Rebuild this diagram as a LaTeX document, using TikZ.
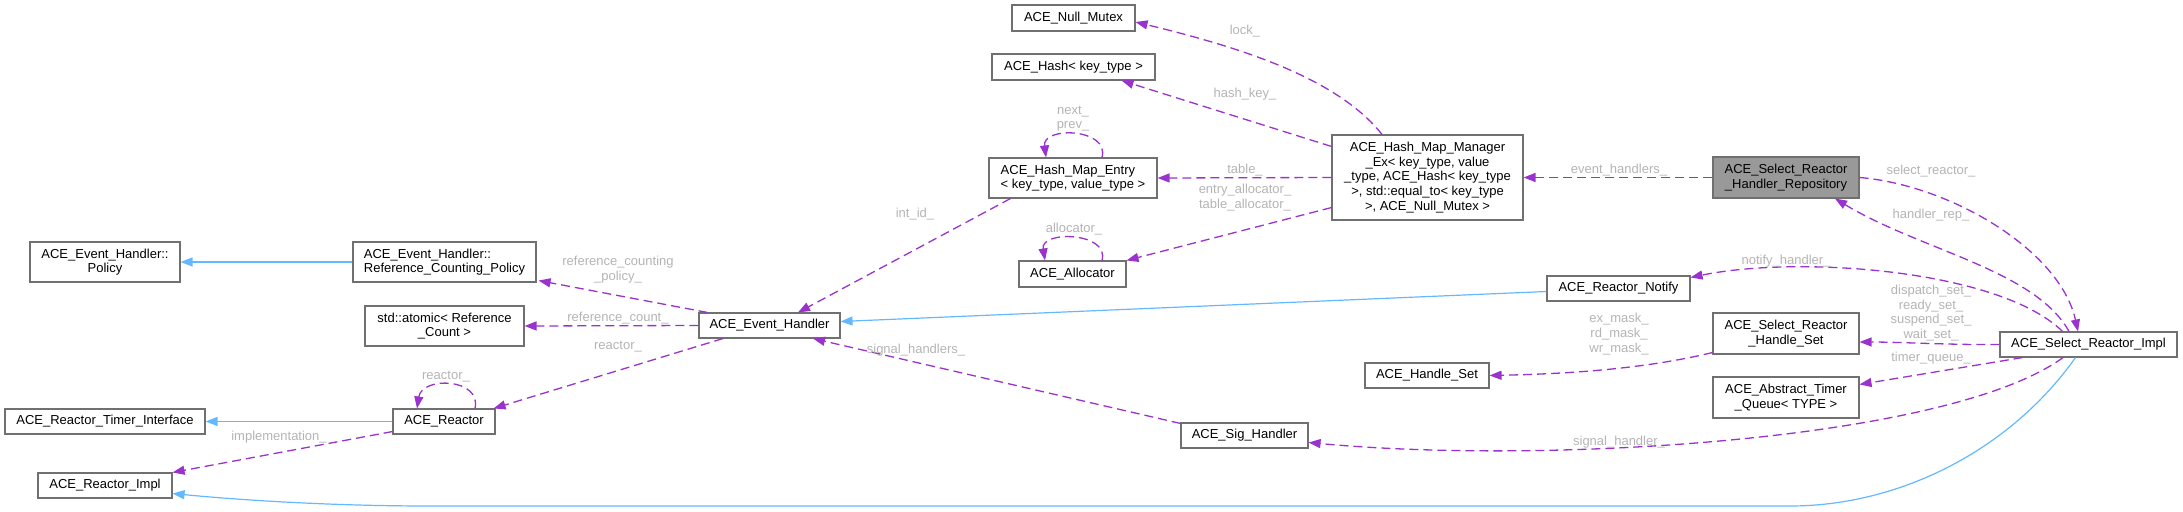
\documentclass[tikz,border=0pt]{standalone}
\usepackage{fontspec}
\setmainfont{Liberation Sans}
\usetikzlibrary{arrows.meta}
\definecolor{boxgray}{HTML}{707070}
\definecolor{hifill}{HTML}{999999}
\definecolor{dpurple}{HTML}{9A32CD}
\definecolor{iblue}{HTML}{63B8FF}
\definecolor{lgray}{HTML}{B4B4B4}
\newcommand\dfont{\fontsize{13pt}{14.7pt}\selectfont}
\tikzset{
  box/.style={draw=boxgray, line width=1.1pt, fill=white, font=\dfont, align=center, inner sep=0pt},
  hibox/.style={box, fill=hifill},
  dep/.style={draw=dpurple, line width=1.3pt, dash pattern=on 9pt off 5pt, -{Triangle[length=12pt,width=9pt]}},
  inh/.style={draw=iblue, line width=1.2pt, -{Triangle[length=12pt,width=9pt]}},
  lbl/.style={text=lgray, font=\dfont, align=center, inner sep=0pt}
}
\begin{document}
\begin{tikzpicture}[x=1pt,y=-1pt]
\useasboundingbox (0,0) rectangle (2183,511);
% nodes
\node[box, minimum width=150pt, minimum height=40pt] (policy) at (105,262) {ACE\_Event\_Handler::\\Policy};
\node[box, align=left, minimum width=183pt, minimum height=40pt] (rcp) at (444.5,262) {ACE\_Event\_Handler::\\Reference\_Counting\_Policy};
\node[box, minimum width=159pt, minimum height=40pt] (atomic) at (444.5,326) {std::atomic< Reference\\\_Count >};
\node[box, minimum width=200pt, minimum height=25pt] (rti) at (105,421.5) {ACE\_Reactor\_Timer\_Interface};
\node[box, minimum width=102pt, minimum height=25pt] (reactor) at (444,421.5) {ACE\_Reactor};
\node[box, minimum width=134pt, minimum height=25pt] (rimpl) at (105,485.5) {ACE\_Reactor\_Impl};
\node[box, minimum width=141pt, minimum height=25pt] (eh) at (769.5,325.5) {ACE\_Event\_Handler};
\node[box, minimum width=123pt, minimum height=26pt] (nullmutex) at (1073.5,18) {ACE\_Null\_Mutex};
\node[box, minimum width=163pt, minimum height=26pt] (hash) at (1073.5,67) {ACE\_Hash< key\_type >};
\node[box, align=left, minimum width=168pt, minimum height=40pt] (hme) at (1073,178) {ACE\_Hash\_Map\_Entry\\< key\_type, value\_type >};
\node[box, minimum width=107pt, minimum height=26pt] (alloc) at (1072.5,274) {ACE\_Allocator};
\node[box, minimum width=191pt, minimum height=85pt] (hmm) at (1427.5,177.5) {ACE\_Hash\_Map\_Manager\\\_Ex< key\_type, value\\\_type, ACE\_Hash< key\_type\\>, std::equal\_to< key\_type\\>, ACE\_Null\_Mutex >};
\node[box, minimum width=127pt, minimum height=25pt] (sig) at (1244.5,435.5) {ACE\_Sig\_Handler};
\node[box, minimum width=143pt, minimum height=25pt] (rnotify) at (1618.5,288.5) {ACE\_Reactor\_Notify};
\node[box, minimum width=124pt, minimum height=25pt] (hset) at (1427,375.5) {ACE\_Handle\_Set};
\node[hibox, minimum width=146pt, minimum height=41pt] (rep) at (1786,177.5) {ACE\_Select\_Reactor\\\_Handler\_Repository};
\node[box, minimum width=146pt, minimum height=41pt] (srhs) at (1786,333.5) {ACE\_Select\_Reactor\\\_Handle\_Set};
\node[box, minimum width=146pt, minimum height=41pt] (atq) at (1786,397.5) {ACE\_Abstract\_Timer\\\_Queue< TYPE >};
\node[box, minimum width=177pt, minimum height=25pt] (sri) at (2088.5,344.5) {ACE\_Select\_Reactor\_Impl};
% inheritance edges
\draw[inh] (rcp.west) -- (policy.east);
\draw[inh] (reactor.west) -- (rti.east);
\draw[inh] ([yshift=-3pt]rnotify.west) -- ([yshift=4pt]eh.east);
\draw[inh] ([xshift=-13pt]sri.south) .. controls (2010,450) and (1900,506) .. (1790,506) -- (430,506) .. controls (330,506) and (240,500) .. ([yshift=5pt]rimpl.south east);
% collaboration edges
\draw[dep] ([xshift=9pt]eh.north west) -- ([xshift=2pt,yshift=2pt]rcp.south east);
\node[lbl] (l1) at (618,269.5) {reference\_counting\\\_policy\_};
\draw[dep] (eh.west) -- (atomic.east);
\node[lbl] (l2) at (618,318) {reference\_count\_};
\draw[dep] ([xshift=24.5pt]eh.south west) -- ([xshift=-2pt]reactor.north east);
\node[lbl] (l3) at (618,347) {reactor\_};
\draw[dep] ([xshift=31pt]reactor.north) .. controls (482,378) and (422,376) .. ([xshift=-27pt]reactor.north);
\node[lbl] (l4) at (446,376.5) {reactor\_};
\draw[dep] ([yshift=3pt]reactor.south west) -- (rimpl.north east);
\node[lbl] (l5) at (279,437) {implementation\_};
\draw[dep] ([xshift=22pt]hme.south west) -- ([xshift=28.5pt]eh.north);
\node[lbl] (l6) at (915,214) {int\_id\_};
\draw[dep] ([xshift=29pt]hme.north) .. controls (1110,128) and (1042,126) .. ([xshift=-27pt]hme.north);
\node[lbl] (l7) at (1073,118.5) {next\_\\prev\_};
\draw[dep] ([xshift=-45.5pt]hmm.north) .. controls (1335,75) and (1230,45) .. ([yshift=-4pt]nullmutex.east);
\node[lbl] (l8) at (1245,31) {lock\_};
\draw[dep] ([yshift=-12pt]hmm.north west) -- ([xshift=-34pt]hash.south east);
\node[lbl] (l9) at (1245,94) {hash\_key\_};
\draw[dep] (hmm.west) -- (hme.east);
\node[lbl] (l10) at (1245,170) {table\_};
\draw[dep] ([yshift=13pt]hmm.south west) -- (alloc.north east);
\node[lbl] (l11) at (1245,197.5) {entry\_allocator\_\\table\_allocator\_};
\draw[dep] ([xshift=29.5pt]alloc.north) .. controls (1110,232) and (1040,230) .. ([xshift=-27.5pt]alloc.north);
\node[lbl] (l12) at (1074,229) {allocator\_};
\draw[dep] (rep.west) -- (hmm.east);
\node[lbl] (l13) at (1619,170) {event\_handlers\_};
\draw[dep] ([xshift=-19.5pt]sri.north) .. controls (2035,270) and (1920,250) .. ([xshift=49pt]rep.south);
\node[lbl] (l14) at (1931,215) {handler\_rep\_};
\draw[dep] (rep.east) .. controls (1950,185) and (2060,250) .. ([xshift=-10.5pt]sri.north);
\node[lbl] (l15) at (1931,171) {select\_reactor\_};
\draw[dep] ([xshift=-26pt]sri.north) .. controls (2000,270) and (1800,255) .. ([yshift=-2pt]rnotify.north east);
\node[lbl] (l16) at (1786,261) {notify\_handler\_};
\draw[dep] (sri.west) .. controls (1950,345) and (1900,342) .. ([yshift=-8.5pt]srhs.east);
\node[lbl] (l17) at (1931,313) {dispatch\_set\_\\ready\_set\_\\suspend\_set\_\\wait\_set\_};
\draw[dep] ([yshift=2pt]srhs.south west) .. controls (1640,370) and (1560,374) .. (hset.east);
\node[lbl] (l18) at (1619,334) {ex\_mask\_\\rd\_mask\_\\wr\_mask\_};
\draw[dep] ([xshift=23pt]sri.south west) -- ([yshift=-8pt]atq.north east);
\node[lbl] (l19) at (1931,358) {timer\_queue\_};
\draw[dep] ([xshift=-25.5pt]sri.south) .. controls (1950,440) and (1550,465) .. ([yshift=-7pt]sig.east);
\node[lbl] (l20) at (1619,442) {signal\_handler\_};
\draw[dep] ([yshift=-1pt]sig.north west) -- ([xshift=43.5pt]eh.south);
\node[lbl] (l21) at (916,350) {signal\_handlers\_};
\end{tikzpicture}
\end{document}
